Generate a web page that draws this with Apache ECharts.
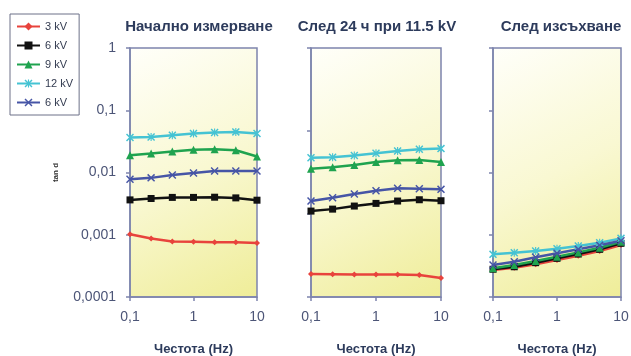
<!DOCTYPE html>
<html><head><meta charset="utf-8">
<script src="https://cdn.jsdelivr.net/npm/echarts@6/dist/echarts.min.js"></script>
<style>html,body{margin:0;padding:0;background:#fff}#c{width:631px;height:356px}</style>
</head><body><div id="c"></div>
<script>
// Frequencies (Hz)
const freqs = [0.1, 0.215, 0.464, 1, 2.15, 4.64, 10];
const panelTitles = ['Начално измерване', 'След 24 ч при 11.5 kV', 'След изсъхване'];
const xAxisTitle = 'Честота (Hz)';
const yAxisTitle = 'tan d';
const seriesNames = ['3 kV', '6 kV', '9 kV', '12 kV', '6 kV (2)'];
const yTickLabels = ['0,0001', '0,001', '0,01', '0,1', '1'];
const xTickLabels = ['0,1', '1', '10'];

// Panel 1: Начално измерване
const p1_3kV  = [0.00102, 0.00087, 0.00078, 0.00077, 0.00076, 0.00076, 0.00074];
const p1_6kV  = [0.00363, 0.00382, 0.00398, 0.00398, 0.00401, 0.00391, 0.00359];
const p1_9kV  = [0.0190, 0.0202, 0.0217, 0.0231, 0.0237, 0.0228, 0.0181];
const p1_12kV = [0.0365, 0.0372, 0.0397, 0.0423, 0.0439, 0.0449, 0.0423];
const p1_6kVb = [0.0078, 0.0082, 0.0091, 0.0098, 0.0106, 0.0106, 0.0106];

// Panel 2: След 24 ч при 11.5 kV
const p2_3kV  = [0.000234, 0.000232, 0.000230, 0.000230, 0.000230, 0.000226, 0.000202];
const p2_6kV  = [0.00240, 0.00258, 0.00289, 0.00319, 0.00348, 0.00365, 0.00352];
const p2_9kV  = [0.0115, 0.0121, 0.0132, 0.0148, 0.0157, 0.0159, 0.0148];
const p2_12kV = [0.0173, 0.0176, 0.0187, 0.0204, 0.0222, 0.0237, 0.0242];
const p2_6kVb = [0.00348, 0.00393, 0.00451, 0.00509, 0.00557, 0.00548, 0.00536];

// Panel 3: След изсъхване
const p3_3kV  = [0.000272, 0.000295, 0.000335, 0.000393, 0.000460, 0.000547, 0.000684];
const p3_6kV  = [0.000279, 0.000306, 0.000356, 0.000418, 0.000490, 0.000583, 0.000728];
const p3_9kV  = [0.000289, 0.000327, 0.000379, 0.000444, 0.000521, 0.000618, 0.000773];
const p3_12kV = [0.000484, 0.000514, 0.000547, 0.000596, 0.000659, 0.000745, 0.000875];
const p3_6kVb = [0.000327, 0.000369, 0.000434, 0.000503, 0.000583, 0.000676, 0.000801];

const panels = [
  [p1_3kV, p1_6kV, p1_9kV, p1_12kV, p1_6kVb],
  [p2_3kV, p2_6kV, p2_9kV, p2_12kV, p2_6kVb],
  [p3_3kV, p3_6kV, p3_9kV, p3_12kV, p3_6kVb]
];

const colors = ['#e8433c', '#111111', '#1fa34f', '#45c3d3', '#4655a6'];
const xPath = 'path://M0,1.3L1.3,0L5,3.7L8.7,0L10,1.3L6.3,5L10,8.7L8.7,10L5,6.3L1.3,10L0,8.7L3.7,5Z';
const starPath = 'path://M0,1.3L1.3,0L5,3.7L8.7,0L10,1.3L6.3,5L10,8.7L8.7,10L5,6.3L1.3,10L0,8.7L3.7,5Z M4.3,0L5.7,0L5.7,10L4.3,10Z';
const symbols = ['diamond', 'rect', 'triangle', starPath, xPath];
const symbolSizes = [6, 7, 8, 8, 8];

const font = '"Liberation Sans", Arial, sans-serif';
const axisColor = '#7d84ad';
const labelColor = '#4c5577';
const titleColor = '#2d3b5c';

const gridDefs = [
  {left: 130, top: 48, width: 127, height: 249},
  {left: 311, top: 48, width: 130, height: 249},
  {left: 493, top: 48, width: 128, height: 249}
];

const bg = new echarts.graphic.LinearGradient(0, 0, 1, 1, [
  {offset: 0, color: '#fffffa'},
  {offset: 0.5, color: '#f9f8d2'},
  {offset: 1, color: '#efed98'}
]);

const grids = gridDefs.map(g => Object.assign({}, g, {
  show: true, backgroundColor: bg, borderColor: axisColor, borderWidth: 1.5,
  containLabel: false, outerBoundsMode: 'none'
}));

const xAxes = gridDefs.map((g, i) => ({
  type: 'log', logBase: 10, min: 0.1, max: 10, gridIndex: i,
  name: xAxisTitle, nameLocation: 'middle', nameGap: 46,
  nameTextStyle: {fontFamily: font, fontSize: 13, fontWeight: 'bold', color: titleColor},
  axisLine: {lineStyle: {color: axisColor, width: 1.5}},
  axisTick: {show: true, inside: false, length: 4, lineStyle: {color: axisColor, width: 1.5}},
  minorTick: {show: false},
  splitLine: {show: false},
  axisLabel: {
    fontFamily: font, fontSize: 14, color: labelColor, margin: 13,
    formatter: v => xTickLabels[Math.round(Math.log10(v)) + 1]
  }
}));

const yAxes = [
  {
    type: 'log', logBase: 10, min: 0.0001, max: 1, gridIndex: 0, position: 'left',
    name: yAxisTitle, nameLocation: 'middle', nameGap: 70, nameRotate: 90,
    nameTextStyle: {fontFamily: font, fontSize: 8, fontWeight: 'bold', color: '#333'},
    axisLine: {lineStyle: {color: axisColor, width: 1.5}},
    axisTick: {show: true, length: 4, lineStyle: {color: axisColor, width: 1.5}},
    splitLine: {show: false},
    axisLabel: {
      fontFamily: font, fontSize: 14, color: labelColor, margin: 14,
      formatter: v => yTickLabels[Math.round(Math.log10(v)) + 4]
    }
  },
  {
    type: 'log', logBase: 10, min: 0.0001, max: 1, gridIndex: 1, show: false, position: 'right'
  },
  {
    type: 'log', logBase: 10, min: 0.0001, max: 1, gridIndex: 2, position: 'left',
    axisLine: {lineStyle: {color: axisColor, width: 1.5}},
    axisTick: {show: true, length: 4, lineStyle: {color: axisColor, width: 1.5}},
    splitLine: {show: false},
    axisLabel: {show: false}
  },
  {
    // tick-only axis for panel 2 (three equal divisions)
    type: 'value', min: 0, max: 3, interval: 1, gridIndex: 1, position: 'left', offset: 0,
    axisLine: {show: true, lineStyle: {color: axisColor, width: 1.5}},
    axisTick: {show: true, length: 4, lineStyle: {color: axisColor, width: 1.5}},
    splitLine: {show: false},
    axisLabel: {show: false}
  }
];

const series = [];
panels.forEach((panel, pi) => {
  panel.forEach((vals, si) => {
    series.push({
      type: 'line', name: seriesNames[si],
      xAxisIndex: pi, yAxisIndex: pi,
      data: freqs.map((f, k) => [f, vals[k]]),
      symbol: symbols[si], symbolSize: symbolSizes[si],
      showAllSymbol: true,
      itemStyle: {color: colors[si]},
      lineStyle: {color: colors[si], width: 2.5},
      animation: false
    });
  });
});

const titles = [
  {text: panelTitles[0], left: 194},
  {text: panelTitles[1], left: 372},
  {text: panelTitles[2], left: 556}
].map(t => ({
  text: t.text, left: t.left, top: 14, textAlign: 'center',
  textStyle: {fontFamily: font, fontSize: 15, fontWeight: 'bold', color: titleColor}
}));

const chart = echarts.init(document.getElementById('c'), null, {renderer: 'canvas'});
chart.setOption({
  animation: false,
  title: titles,
  grid: grids,
  xAxis: xAxes,
  yAxis: yAxes,
  legend: {
    orient: 'vertical', left: 10, top: 14,
    data: seriesNames,
    itemWidth: 23, itemHeight: 10, itemGap: 8,
    padding: [7, 6, 7, 6],
    borderColor: '#6d7188', borderWidth: 1,
    textStyle: {fontFamily: font, fontSize: 11, color: '#333b50'},
    formatter: n => n.replace(' (2)', '')
  },
  series: series
});
</script>
</body></html>
